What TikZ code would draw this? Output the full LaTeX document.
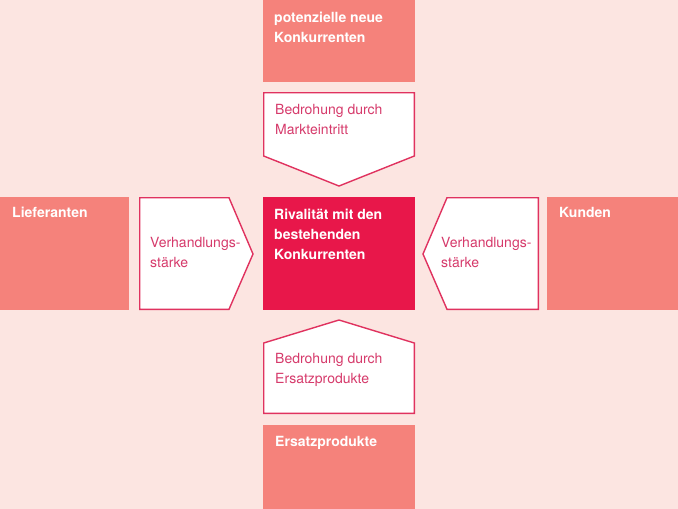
\documentclass[tikz,border=0pt]{standalone}
\usepackage{fontspec}
\setmainfont{TeX Gyre Heros}
\definecolor{bgpink}{HTML}{FCE5E1}
\definecolor{salmon}{HTML}{F5827B}
\definecolor{crimson}{HTML}{E8174A}
\definecolor{arrowline}{HTML}{E0325F}
\definecolor{arrowtext}{HTML}{D63A6B}
\tikzset{
  boxfill/.style={fill=salmon, draw=none},
  arrowshape/.style={fill=white, draw=arrowline, line width=1.4pt, line join=miter},
  boxlabel/.style={anchor=base west, inner sep=0pt, align=left, text=white,
    font=\fontsize{14}{20}\selectfont\bfseries},
  arrowlabel/.style={anchor=base west, inner sep=0pt, align=left, text=arrowtext,
    font=\fontsize{14}{20}\selectfont},
}
\begin{document}
\begin{tikzpicture}[x=1pt,y=-1pt]
\useasboundingbox (0,0) rectangle (678,509);
\fill[bgpink] (0,0) rectangle (678,509);
% outer boxes
\fill[boxfill] (263,0) rectangle (415,82);
\fill[boxfill] (0,197) rectangle (129,310);
\fill[boxfill] (547,197) rectangle (678,310);
\fill[boxfill] (263,425) rectangle (415,509);
% centre box
\fill[crimson] (263,197) rectangle (415,310);
% arrow shapes
\draw[arrowshape] (263.7,92.7) -- (414.3,92.7) -- (414.3,156) -- (339,186) -- (263.7,156) -- cycle;
\draw[arrowshape] (139.7,197.7) -- (229,197.7) -- (253,254) -- (229,309.3) -- (139.7,309.3) -- cycle;
\draw[arrowshape] (538.3,197.7) -- (447,197.7) -- (423,254) -- (447,309.3) -- (538.3,309.3) -- cycle;
\draw[arrowshape] (263.7,413.3) -- (414.3,413.3) -- (414.3,343) -- (339,320) -- (263.7,343) -- cycle;
% labels (base anchor = baseline of the last line)
\node[boxlabel] (newcomp) at (274,42) {potenzielle neue\\Konkurrenten};
\node[arrowlabel] (entry) at (275,134) {Bedrohung durch\\Markteintritt};
\node[boxlabel] (suppliers) at (12,217) {Lieferanten};
\node[arrowlabel] (bargainl) at (150,267) {Verhandlungs-\\stärke};
\node[boxlabel] (rivalry) at (274,259) {Rivalität mit den\\bestehenden\\Konkurrenten};
\node[arrowlabel] (bargainr) at (441,267) {Verhandlungs-\\stärke};
\node[boxlabel] (customers) at (559,217) {Kunden};
\node[arrowlabel] (subst) at (275,383) {Bedrohung durch\\Ersatzprodukte};
\node[boxlabel] (substitutes) at (275,446) {Ersatzprodukte};
\end{tikzpicture}
\end{document}
